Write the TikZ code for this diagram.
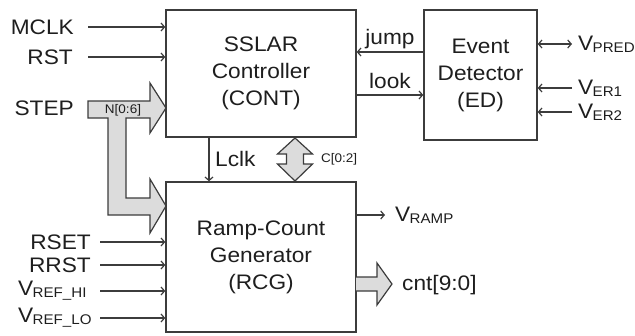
\documentclass[tikz,border=0pt]{standalone}
\usepackage{fontspec}
\setmainfont{Liberation Sans}[FakeStretch=1.08]
\usetikzlibrary{arrows.meta}
\definecolor{ln}{HTML}{3C3C3C}
\definecolor{busfill}{HTML}{DCDCDC}
\definecolor{tx}{HTML}{1E1E1E}
\newcommand{\Vsub}[1]{V\kern-0.6pt\raisebox{-2pt}{\fontsize{14}{14}\selectfont #1}}
\begin{document}
\begin{tikzpicture}[x=1pt,y=-1pt,
  block/.style={draw=ln, line width=1.4pt, inner sep=0pt, align=center, text=tx, font=\fontsize{21}{27}\selectfont},
  lbl/.style={text=tx, inner sep=0pt, font=\fontsize{21}{25}\selectfont},
  small/.style={text=tx, inner sep=0pt, font=\fontsize{12.5}{14}\selectfont},
  sig/.style={draw=ln, line width=1.2pt, -{Straight Barb[length=3.5pt,width=8pt]}},
  dsig/.style={draw=ln, line width=1.2pt, {Straight Barb[length=3.5pt,width=8pt]}-{Straight Barb[length=3.5pt,width=8pt]}},
  bus/.style={draw=ln, fill=busfill, line width=1.2pt, line join=miter}]
\useasboundingbox (0,0) rectangle (635,335);

% blocks
\node[block, minimum width=190pt, minimum height=127pt] (cont) at (261,73.5) {SSLAR\\Controller\\(CONT)};
\node[block, minimum width=113pt, minimum height=130pt] (ed) at (480.5,75) {Event\\Detector\\(ED)};
\node[block, minimum width=190pt, minimum height=150pt] (rcg) at (261,257) {Ramp-Count\\Generator\\(RCG)};

% N[0:6] bus
\path[bus] (88,101) -- (150,101) -- (150,83) -- (166,108) -- (150,133) -- (150,118)
  -- (126,118) -- (126,198) -- (150,198) -- (150,179) -- (166,206) -- (150,233)
  -- (150,215) -- (108,215) -- (108,118) -- (88,118) -- cycle;
\node[small] (nlbl) at (123,110) {N[0:6]};

% C[0:2] bidirectional bus
\path[bus] (295,138) -- (312.5,154) -- (303.5,154) -- (303.5,164) -- (312.5,164)
  -- (295,181) -- (277.5,164) -- (286.5,164) -- (286.5,154) -- (277.5,154) -- cycle;
\node[small, anchor=west] (clbl) at (321,159) {C[0:2]};

% cnt bus
\filldraw[bus] (356,277) -- (377,277) -- (377,263) -- (392,284) -- (377,305) -- (377,291) -- (356,291);
\node[lbl, anchor=west] (cnt) at (402,285) {cnt[9:0]};

% left inputs to CONT
\coordinate (mclkS) at (88,27);
\coordinate (rstS) at (88,57);
\node[lbl, anchor=east] (mclk) at (74,27) {MCLK};
\node[lbl, anchor=east] (rst) at (73,57) {RST};
\node[lbl, anchor=east] (step) at (74,108) {STEP};
\draw[sig] (mclkS) -- (mclkS -| cont.west);
\draw[sig] (rstS) -- (rstS -| cont.west);

% left inputs to RCG
\coordinate (rsetS) at (100,242);
\coordinate (rrstS) at (100,265);
\coordinate (vhiS) at (100,291);
\coordinate (vloS) at (100,318);
\node[lbl, anchor=east] (rset) at (91,242) {RSET};
\node[lbl, anchor=east] (rrst) at (91,265) {RRST};
\node[lbl, anchor=west] (vhi) at (18,291) {\Vsub{REF\_HI}};
\node[lbl, anchor=west] (vlo) at (18,318) {\Vsub{REF\_LO}};
\draw[sig] (rsetS) -- (rsetS -| rcg.west);
\draw[sig] (rrstS) -- (rrstS -| rcg.west);
\draw[sig] (vhiS) -- (vhiS -| rcg.west);
\draw[sig] (vloS) -- (vloS -| rcg.west);

% CONT <-> ED
\coordinate (jy) at (400,52);
\coordinate (ly) at (400,95);
\draw[sig] (jy -| ed.west) -- (jy -| cont.east);
\draw[sig] (ly -| cont.east) -- (ly -| ed.west);
\node[lbl, anchor=base] (jump) at (390,44) {jump};
\node[lbl, anchor=base] (look) at (390,88) {look};

% Lclk
\coordinate (lx) at (209,160);
\draw[sig] (lx |- cont.south) -- (lx |- rcg.north);
\node[lbl, anchor=west] (lclk) at (215,159) {Lclk};

% ED right side
\coordinate (vpredE) at (572,44);
\coordinate (ver1S) at (572,88);
\coordinate (ver2S) at (572,112);
\draw[dsig] (ed.east |- vpredE) -- (vpredE);
\draw[sig] (ver1S) -- (ver1S -| ed.east);
\draw[sig] (ver2S) -- (ver2S -| ed.east);
\node[lbl, anchor=west] (vpred) at (578,44) {\Vsub{PRED}};
\node[lbl, anchor=west] (ver1) at (578,88) {\Vsub{ER1}};
\node[lbl, anchor=west] (ver2) at (578,112) {\Vsub{ER2}};

% V_RAMP
\coordinate (vrampE) at (385,215);
\draw[sig] (rcg.east |- vrampE) -- (vrampE);
\node[lbl, anchor=west] (vramp) at (395,215) {\Vsub{RAMP}};
\end{tikzpicture}
\end{document}
